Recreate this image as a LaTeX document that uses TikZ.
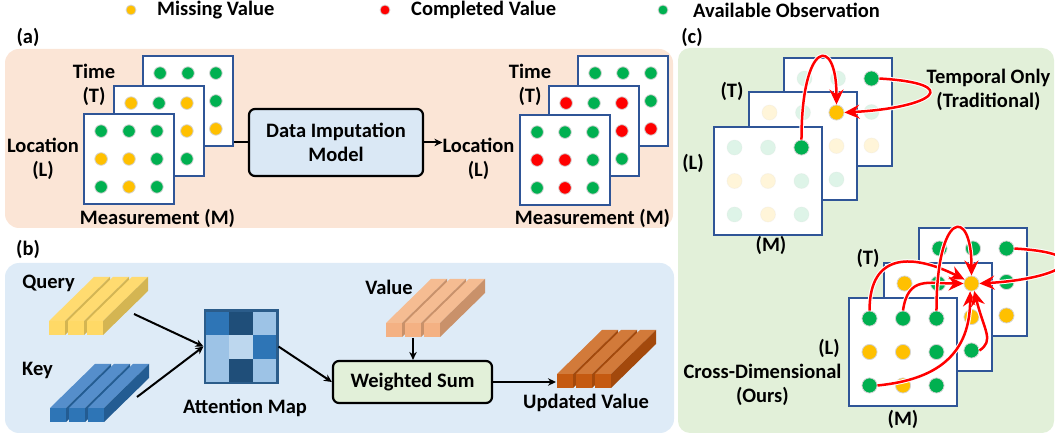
\documentclass[tikz,border=0pt]{standalone}
\usepackage{fontspec}
\setmainfont{Carlito}
\usetikzlibrary{arrows.meta}

\definecolor{gn}{HTML}{00B050}
\definecolor{yl}{HTML}{FFC000}
\definecolor{rd}{HTML}{FF0000}
\definecolor{sheetblue}{HTML}{2F5597}
\definecolor{bga}{HTML}{FBE5D6}
\definecolor{bgb}{HTML}{DEEBF7}
\definecolor{bgc}{HTML}{E2F0D9}
\definecolor{boxblue}{HTML}{DAE8F5}
\definecolor{am1}{HTML}{1F4E79}
\definecolor{am2}{HTML}{2E75B6}
\definecolor{am3}{HTML}{9DC3E6}
\definecolor{am4}{HTML}{BDD7EE}
\definecolor{amedge}{HTML}{2B5C8A}
\definecolor{qf}{HTML}{FFD966}
\definecolor{qt}{HTML}{FFDB70}
\definecolor{qs}{HTML}{D4B552}
\definecolor{kf}{HTML}{2E75B6}
\definecolor{kt}{HTML}{558ECB}
\definecolor{ks}{HTML}{235C92}
\definecolor{vf}{HTML}{F4B183}
\definecolor{vt}{HTML}{F5BC92}
\definecolor{vs}{HTML}{C9916A}
\definecolor{uf}{HTML}{C55A11}
\definecolor{ut}{HTML}{D27A3A}
\definecolor{us}{HTML}{A3490C}

\tikzset{
    lbl/.style={font=\bfseries\fontsize{20.5}{24}\selectfont, align=center, inner sep=0},
    sheet/.style={draw=sheetblue, fill=white, line width=2.5pt, inner sep=0},
    obs/.style={circle, fill=#1, draw=black!17, line width=0.8pt, inner sep=0},
    obs g/.style={obs=gn},
    obs y/.style={obs=yl},
    obs r/.style={obs=rd},
    obs gf/.style={obs=gn, opacity=0.13},
    obs yf/.style={obs=yl, opacity=0.15},
    box/.style={lbl, draw, line width=2.2pt, rounded corners=6pt},
    link/.style={->, line width=2pt},
    redarr/.style={-{Stealth[length=15pt,width=14pt]}, draw=rd, line width=2.5pt,
        preaction={draw=white, line width=4.5pt}},
}

\newcommand{\dotsheet}[5]{%
    \node[sheet, minimum size=#4] (#1) at ({#2+#4/2},{#3+#4/2}) {};
    \foreach \sty [count=\i from 0] in {#5} {
        \pgfmathsetmacro{\dx}{#2+#4*(0.19+0.31*mod(\i,3))}
        \pgfmathsetmacro{\dy}{#3+#4*(0.19+0.31*floor(\i/3))}
        \node[obs \sty, minimum size=#4*0.14] (#1-\i) at (\dx,\dy) {};
    }
}

\newcommand{\barstack}[5]{%
    \foreach \k in {0,1,2} {
        \pgfmathsetmacro{\bx}{#1+19*\k}
        \fill[#4] (\bx,#2) -- ++(45,-44) -- ++(16,0) -- ++(-45,44) -- cycle;
        \fill[#5] (\bx+16,#2) -- ++(45,-44) -- ++(0,14) -- ++(-45,44) -- cycle;
        \fill[#3] (\bx,#2) rectangle ++(16,14);
    }
}

\begin{document}
\begin{tikzpicture}[x=1pt, y=-1pt, >={Stealth[length=8pt,width=7.5pt]}]
    \useasboundingbox (0,0) rectangle (1055,435);

    \fill[bga, rounded corners=14pt] (5,49) rectangle (673,228);
    \fill[bgb, rounded corners=14pt] (5,263) rectangle (674,433);
    \fill[bgc, rounded corners=12pt] (678,48) rectangle (1054,433);

    \node[obs y, minimum size=10] (lgy) at (131,10) {};
    \node[lbl, anchor=west] (lgyt) at (157,10) {Missing Value};
    \node[obs r, minimum size=10] (lgr) at (385,10) {};
    \node[lbl, anchor=west] (lgrt) at (411,10) {Completed Value};
    \node[obs g, minimum size=10] (lgg) at (663,10) {};
    \node[lbl, anchor=west] (lggt) at (693,10) {Available Observation};

    \node[lbl] (pa) at (28,37) {(a)};
    \node[lbl] (pb) at (28,249) {(b)};
    \node[lbl] (pc) at (692,37) {(c)};

    \dotsheet{la3}{143}{56}{90}{g,g,g,g,g,g,g,g,y}
    \dotsheet{la2}{114}{86}{90}{y,g,y,g,g,y,g,g,g}
    \dotsheet{la1}{84}{114}{90}{g,g,g,y,y,g,g,y,g}
    \node[lbl] (timel) at (94,85) {Time\\(T)};
    \node[lbl] (locl) at (43,158.5) {Location\\(L)};
    \node[lbl] (measl) at (157.5,218) {Measurement (M)};

    \node[box, fill=boxblue, minimum width=174, minimum height=67] (dim) at (336,142.5) {Data Imputation\\Model};
    \node[lbl] (locr) at (478.5,158.5) {Location\\(L)};
    \draw[line width=2pt] (dim.west) -- (dim.west -| la3.east);
    \draw[link] (dim.east) -- (dim.east -| locr.west);

    \dotsheet{ra3}{578}{56}{90}{g,g,g,g,g,g,g,g,r}
    \dotsheet{ra2}{549}{86}{90}{r,g,r,g,g,r,g,g,g}
    \dotsheet{ra1}{520}{115}{90}{g,g,g,r,r,g,g,r,g}
    \node[lbl] (timer) at (530,85) {Time\\(T)};
    \node[lbl] (measr) at (592.5,218) {Measurement (M)};

    \barstack{49}{321}{qf}{qt}{qs}
    \barstack{50}{408}{kf}{kt}{ks}
    \barstack{386}{323}{vf}{vt}{vs}
    \barstack{557}{374}{uf}{ut}{us}
    \coordinate (qtail) at (134,314);
    \coordinate (ktail) at (137,397);
    \coordinate (vtail) at (413,338);
    \coordinate (uhead) at (556,382);
    \node[lbl] (query) at (48.5,283) {Query};
    \node[lbl] (key) at (37.5,370) {Key};
    \node[lbl] (value) at (389,287) {Value};
    \node[lbl] (updv) at (586,403) {Updated Value};

    \node[draw=amedge, fill=amedge, line width=1pt, minimum size=74, inner sep=0] (amap) at (241,346.5) {};
    \foreach \cl [count=\i from 0] in {am2,am1,am3,am3,am4,am2,am3,am1,am3} {
        \pgfmathsetmacro{\cx}{206+23.33*mod(\i,3)}
        \pgfmathsetmacro{\cy}{312+23.33*floor(\i/3)}
        \fill[\cl] (\cx,\cy) rectangle ++(23.33,23.33);
    }
    \node[lbl] (amapt) at (245,408) {Attention Map};

    \node[box, fill=bgc, minimum width=159, minimum height=42] (ws) at (412.5,382) {Weighted Sum};
    \draw[link] (qtail) -- (amap.west);
    \draw[link] (ktail) -- (amap.west);
    \draw[link] (amap.east) -- (ws.west);
    \draw[link] (vtail) -- (vtail |- ws.north);
    \draw[link] (ws.east) -- (uhead);

    \dotsheet{tc3}{784}{58}{108}{gf,gf,g,gf,gf,gf,gf,gf,yf}
    \dotsheet{tc2}{749}{92}{108}{yf,gf,y,gf,gf,yf,gf,gf,gf}
    \dotsheet{tc1}{714}{127}{108}{gf,gf,g,yf,yf,gf,gf,yf,gf}
    \node[lbl] (tt) at (732,91) {(T)};
    \node[lbl] (tl) at (693,163) {(L)};
    \node[lbl] (tm) at (771,245) {(M)};
    \node[lbl] (tempo) at (988.5,90) {Temporal Only\\(Traditional)};
    \draw[redarr] (tc1-2.north) .. controls +(0,-100) and +(0,-70) .. (tc2-2.north);
    \draw[redarr] (tc3-2.east) .. controls +(85,5) and +(90,-5) .. (tc2-2.east);

    \dotsheet{bc3}{919}{228}{108}{g,g,g,g,g,g,g,g,y}
    \dotsheet{bc2}{884}{263}{108}{y,g,y,g,g,y,g,g,g}
    \dotsheet{bc1}{849}{298}{108}{g,g,g,y,y,g,g,y,g}
    \node[lbl] (bt) at (868,258) {(T)};
    \node[lbl] (bl) at (829,348) {(L)};
    \node[lbl] (bm) at (903,419) {(M)};
    \node[lbl] (cross) at (762.5,385) {Cross-Dimensional\\(Ours)};
    \draw[redarr] (bc1-0.north) .. controls +(0,-60) and +(-50,-25) .. (bc2-2.150);
    \draw[redarr] (bc1-1.north) .. controls +(5,-35) and +(-35,0) .. (bc2-2.west);
    \draw[redarr] (bc1-2.north) .. controls +(0,-100) and +(0,-70) .. (bc2-2.north);
    \draw[redarr] (bc3-2.east) .. controls +(85,5) and +(85,-5) .. (bc2-2.east);
    \draw[redarr] (bc1-6.east) .. controls +(50,-5) and +(0,70) .. (bc2-2.260);
    \draw[redarr] (bc2-8.east) .. controls +(15,-10) and +(10,40) .. (bc2-2.290);
\end{tikzpicture}
\end{document}
